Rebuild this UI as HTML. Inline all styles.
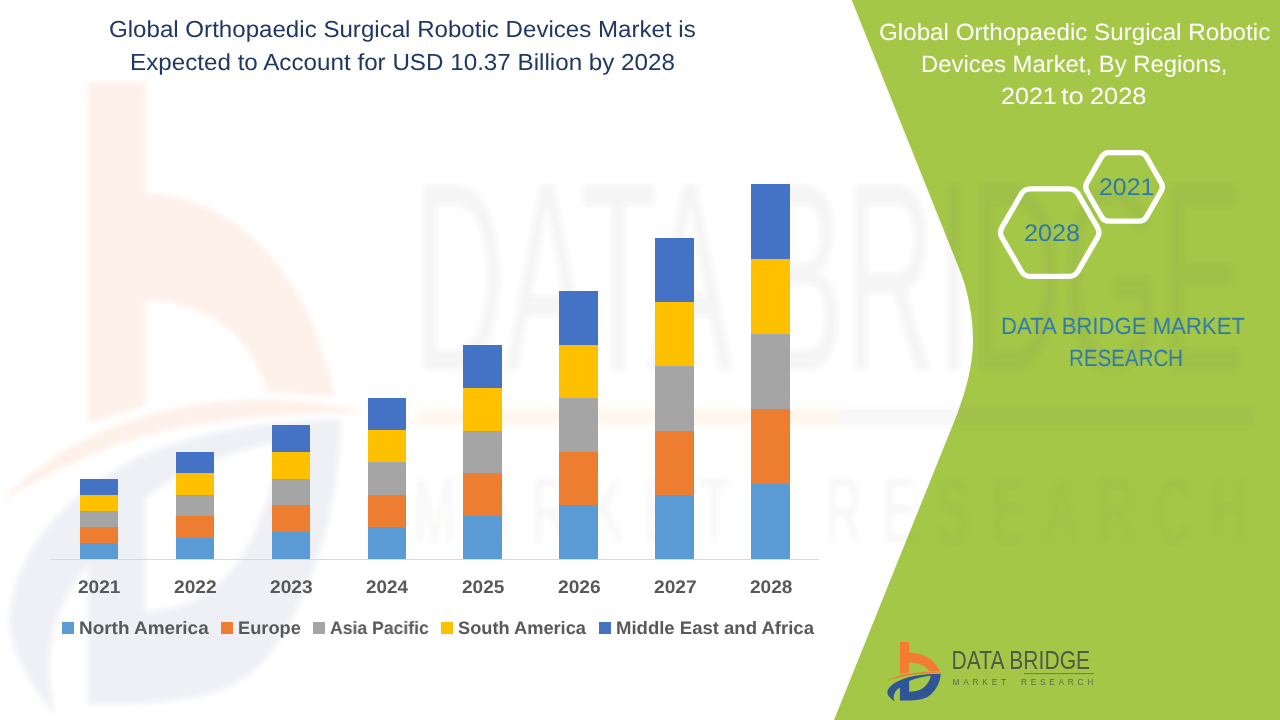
<!DOCTYPE html>
<html lang="en">
<head>
<meta charset="utf-8">
<title>Global Orthopaedic Surgical Robotic Devices Market</title>
<style>
html,body{margin:0;padding:0;}
body{width:1280px;height:720px;overflow:hidden;background:#ffffff;position:relative;font-family:"Liberation Sans",sans-serif;}
#bg{position:absolute;left:0;top:0;width:1280px;height:720px;display:block;}
.t{position:absolute;white-space:nowrap;line-height:1;transform-origin:0 0;margin:0;padding:0;text-rendering:geometricPrecision;will-change:transform;}
.navy{color:#1f3864;}
.white{color:#ffffff;}
.blue{color:#2e7aab;}
.grey{color:#595959;font-weight:bold;}
</style>
</head>
<body>
<svg id="bg" width="1280" height="720" viewBox="0 0 1280 720">

  <defs>
    <filter id="wmblur" x="-5%" y="-5%" width="110%" height="110%"><feGaussianBlur stdDeviation="2.5"/></filter>
    <!-- logo icon drawn in 10.286x zoom coords of region (880,635) -->
    <g id="logo-b" transform="translate(880 635) scale(0.09722)">
      <path fill="#f47b33" d="M205,72 L300,72 L300,180 C430,182 565,240 614,376 L503,372 C470,312 400,286 300,283 L300,386 L205,402 Z"/>
      <path fill="#f47b33" d="M64,476 C190,398 420,358 668,392 C560,392 420,396 300,414 C220,428 140,450 64,476 Z"/>
    </g>
    <g id="logo-d" transform="translate(880 635) scale(0.09722)">
      <path fill="#2f5597" fill-rule="evenodd" d="M150,684 C105,650 70,620 76,585 C84,530 160,470 300,432 C400,408 520,400 624,398 C622,470 590,560 500,630 C440,668 370,674 205,674 L205,540 C150,575 125,625 150,684 Z M300,474 L300,584 C380,584 440,560 480,510 C505,478 518,448 522,420 C440,428 360,448 300,474 Z"/>
    </g>
    <g id="logo-t1">
      <text x="951.5" y="669.4" font-family="Liberation Sans, sans-serif" font-size="24.9" fill="#4f5b48" textLength="138.6" lengthAdjust="spacingAndGlyphs">DATA BRIDGE</text>
    </g>
    <g id="logo-t2a">
      <rect x="952.5" y="673" width="71.5" height="1.1" fill="#e9a24a"/>
    </g>
    <g id="logo-t2b">
      <rect x="1024" y="673" width="70" height="1.1" fill="#5f7f9f"/>
    </g>
    <g id="logo-t3">
      <text x="952.5" y="685.3" font-family="Liberation Sans, sans-serif" font-size="8.4" fill="#5d6a52" textLength="53.6" lengthAdjust="spacing">MARKET</text>
    </g>
    <g id="logo-t4">
      <text x="1021" y="685.3" font-family="Liberation Sans, sans-serif" font-size="8.4" fill="#5d6a52" textLength="72.3" lengthAdjust="spacing">RESEARCH</text>
    </g>
  </defs>
  <!-- green panel -->
  <path id="green" fill="#a5c748" d="M851.7,0 L960.5,272 C966,286 972.8,312 973,338 C973.2,362 968,385 957,414.4 L834,720 L1280,720 L1280,0 Z"/>


  <!-- faint stretched watermark of the logo -->
  <g filter="url(#wmblur)">
    <g opacity="0.105" transform="matrix(6.2 0 0 10.63 -5491.5 -6742.5)"><use href="#logo-b"/></g>
    <g opacity="0.085" transform="matrix(6.2 0 0 10.63 -5491.5 -6742.5)"><use href="#logo-d"/></g>
    <g opacity="0.085" transform="matrix(5.915 0 0 15 -5216 -9686.25)"><use href="#logo-t2a"/></g>
    <g opacity="0.05" transform="matrix(5.915 0 0 15 -5216 -9686.25)"><use href="#logo-t2b"/></g>
    <g opacity="0.055">
      <g transform="matrix(5.993 0 0 10.8 -5288.5 -6859.5)"><use href="#logo-t1"/></g>
      <g transform="matrix(5.9 0 0 10.8 -5205.75 -6859.5)"><use href="#logo-t3"/></g>
      <g transform="matrix(5.83 0 0 10.8 -5126.4 -6859.5)"><use href="#logo-t4"/></g>
    </g>
  </g>

  <!-- chart axis -->
  <rect x="51" y="559" width="768" height="1" fill="#d9d9d9"/>

  <!-- bars -->
  <g id="bars" shape-rendering="crispEdges">
    <!-- 2021 -->
    <rect x="80" y="479" width="38" height="16" fill="#4472c4"/>
    <rect x="80" y="495" width="38" height="16" fill="#ffc000"/>
    <rect x="80" y="511" width="38" height="16" fill="#a5a5a5"/>
    <rect x="80" y="527" width="38" height="16" fill="#ed7d31"/>
    <rect x="80" y="543" width="38" height="16" fill="#5b9bd5"/>
    <!-- 2022 -->
    <rect x="176" y="452" width="38" height="21" fill="#4472c4"/>
    <rect x="176" y="473" width="38" height="22" fill="#ffc000"/>
    <rect x="176" y="495" width="38" height="21" fill="#a5a5a5"/>
    <rect x="176" y="516" width="38" height="22" fill="#ed7d31"/>
    <rect x="176" y="538" width="38" height="21" fill="#5b9bd5"/>
    <!-- 2023 -->
    <rect x="272" y="425" width="38" height="27" fill="#4472c4"/>
    <rect x="272" y="452" width="38" height="27" fill="#ffc000"/>
    <rect x="272" y="479" width="38" height="26" fill="#a5a5a5"/>
    <rect x="272" y="505" width="38" height="27" fill="#ed7d31"/>
    <rect x="272" y="532" width="38" height="27" fill="#5b9bd5"/>
    <!-- 2024 -->
    <rect x="368" y="398" width="38" height="32" fill="#4472c4"/>
    <rect x="368" y="430" width="38" height="32" fill="#ffc000"/>
    <rect x="368" y="462" width="38" height="33" fill="#a5a5a5"/>
    <rect x="368" y="495" width="38" height="32" fill="#ed7d31"/>
    <rect x="368" y="527" width="38" height="32" fill="#5b9bd5"/>
    <!-- 2025 -->
    <rect x="463" y="345" width="39" height="43" fill="#4472c4"/>
    <rect x="463" y="388" width="39" height="43" fill="#ffc000"/>
    <rect x="463" y="431" width="39" height="42" fill="#a5a5a5"/>
    <rect x="463" y="473" width="39" height="43" fill="#ed7d31"/>
    <rect x="463" y="516" width="39" height="43" fill="#5b9bd5"/>
    <!-- 2026 -->
    <rect x="559" y="291" width="39" height="54" fill="#4472c4"/>
    <rect x="559" y="345" width="39" height="53" fill="#ffc000"/>
    <rect x="559" y="398" width="39" height="54" fill="#a5a5a5"/>
    <rect x="559" y="452" width="39" height="53" fill="#ed7d31"/>
    <rect x="559" y="505" width="39" height="54" fill="#5b9bd5"/>
    <!-- 2027 -->
    <rect x="655" y="238" width="39" height="64" fill="#4472c4"/>
    <rect x="655" y="302" width="39" height="64" fill="#ffc000"/>
    <rect x="655" y="366" width="39" height="65" fill="#a5a5a5"/>
    <rect x="655" y="431" width="39" height="64" fill="#ed7d31"/>
    <rect x="655" y="495" width="39" height="64" fill="#5b9bd5"/>
    <!-- 2028 -->
    <rect x="751" y="184" width="39" height="75" fill="#4472c4"/>
    <rect x="751" y="259" width="39" height="75" fill="#ffc000"/>
    <rect x="751" y="334" width="39" height="75" fill="#a5a5a5"/>
    <rect x="751" y="409" width="39" height="75" fill="#ed7d31"/>
    <rect x="751" y="484" width="39" height="75" fill="#5b9bd5"/>
  </g>

  <!-- legend swatches -->
  <g shape-rendering="crispEdges">
    <rect x="62" y="622" width="12" height="12" fill="#5b9bd5"/>
    <rect x="221" y="622" width="12" height="12" fill="#ed7d31"/>
    <rect x="313" y="622" width="12" height="12" fill="#a5a5a5"/>
    <rect x="441" y="622" width="12" height="12" fill="#ffc000"/>
    <rect x="599" y="622" width="12" height="12" fill="#4472c4"/>
  </g>

  <!-- hexagons -->
  <g fill="none" stroke="#ffffff" stroke-width="5.3" stroke-linejoin="round">
    <path d="M1086.9,191.2 Q1084.5,186.9 1086.9,182.6 L1101.6,156.9 Q1104.0,152.6 1109.0,152.6 L1139.0,152.6 Q1144.0,152.6 1146.5,156.9 L1161.2,182.6 Q1163.6,186.9 1161.2,191.2 L1146.5,216.9 Q1144.0,221.2 1139.0,221.2 L1109.0,221.2 Q1104.0,221.2 1101.6,216.9 Z"/>
    <path d="M1002.0,237.7 Q999.0,232.6 1002.0,227.4 L1021.4,193.9 Q1024.4,188.8 1030.4,188.8 L1069.0,188.8 Q1075.0,188.8 1078.0,193.9 L1097.4,227.4 Q1100.4,232.6 1097.4,237.7 L1078.0,271.2 Q1075.0,276.4 1069.0,276.4 L1030.4,276.4 Q1024.4,276.4 1021.4,271.2 Z"/>
  </g>

  <!-- logo -->
  <use href="#logo-b"/><use href="#logo-d"/>
  <use href="#logo-t1"/><use href="#logo-t2a"/><use href="#logo-t2b"/><use href="#logo-t3"/><use href="#logo-t4"/>
</svg>

<!-- left title -->
<div class="t navy" id="lt1" style="left:109.11px;top:18px;font-size:23.2px;transform:scaleX(1.0395);">Global Orthopaedic Surgical Robotic Devices Market is</div>
<div class="t navy" id="lt2" style="left:130.32px;top:51px;font-size:23.2px;transform:scaleX(1.0439);">Expected to Account for USD 10.37 Billion by 2028</div>

<!-- right title -->
<div class="t white" id="rt1" style="left:879.12px;top:21px;font-size:23.5px;transform:scaleX(1.0292);">Global Orthopaedic Surgical Robotic</div>
<div class="t white" id="rt2" style="left:921.16px;top:53px;font-size:23.5px;transform:scaleX(1.0158);">Devices Market, By Regions,</div>
<div class="t white" id="rt3a" style="left:1001.08px;top:85px;font-size:23.5px;transform:scaleX(1.0673);">2021</div>
<div class="t white" id="rt3b" style="left:1061.06px;top:85px;font-size:23.5px;transform:scaleX(1.1671);">to</div>
<div class="t white" id="rt3c" style="left:1090.07px;top:85px;font-size:23.5px;transform:scaleX(1.0780);">2028</div>

<!-- hexagon labels -->
<div class="t blue" id="hx1" style="left:1099.21px;top:176px;font-size:24.0px;transform:scaleX(1.0363);">2021</div>
<div class="t blue" id="hx2" style="left:1024.20px;top:222px;font-size:24.0px;transform:scaleX(1.0490);">2028</div>

<!-- brand -->
<div class="t blue" id="br1" style="left:1000.50px;top:315px;font-size:23.5px;transform:scaleX(0.9419);">DATA BRIDGE MARKET</div>
<div class="t blue" id="br2" style="left:1069.00px;top:347px;font-size:23.5px;transform:scaleX(0.8734);">RESEARCH</div>

<!-- axis labels -->
<div class="t grey" id="ax1" style="left:78.14px;top:578px;font-size:18.2px;transform:scaleX(1.0471);">2021</div>
<div class="t grey" id="ax2" style="left:174.13px;top:578px;font-size:18.2px;transform:scaleX(1.0538);">2022</div>
<div class="t grey" id="ax3" style="left:270.13px;top:578px;font-size:18.2px;transform:scaleX(1.0538);">2023</div>
<div class="t grey" id="ax4" style="left:366.14px;top:578px;font-size:18.2px;transform:scaleX(1.0340);">2024</div>
<div class="t grey" id="ax5" style="left:462.14px;top:578px;font-size:18.2px;transform:scaleX(1.0471);">2025</div>
<div class="t grey" id="ax6" style="left:558.13px;top:578px;font-size:18.2px;transform:scaleX(1.0538);">2026</div>
<div class="t grey" id="ax7" style="left:654.13px;top:578px;font-size:18.2px;transform:scaleX(1.0538);">2027</div>
<div class="t grey" id="ax8" style="left:750.14px;top:578px;font-size:18.2px;transform:scaleX(1.0471);">2028</div>

<!-- legend -->
<div class="t grey" id="lg1" style="left:78.69px;top:619px;font-size:18.0px;transform:scaleX(1.0511);">North America</div>
<div class="t grey" id="lg2" style="left:237.73px;top:619px;font-size:18.0px;transform:scaleX(1.0124);">Europe</div>
<div class="t grey" id="lg3" style="left:329.72px;top:619px;font-size:18.0px;transform:scaleX(0.9780);">Asia Pacific</div>
<div class="t grey" id="lg4" style="left:457.89px;top:619px;font-size:18.0px;transform:scaleX(1.0127);">South America</div>
<div class="t grey" id="lg5" style="left:615.51px;top:619px;font-size:18.0px;transform:scaleX(1.0290);">Middle East and Africa</div>
</body>
</html>
